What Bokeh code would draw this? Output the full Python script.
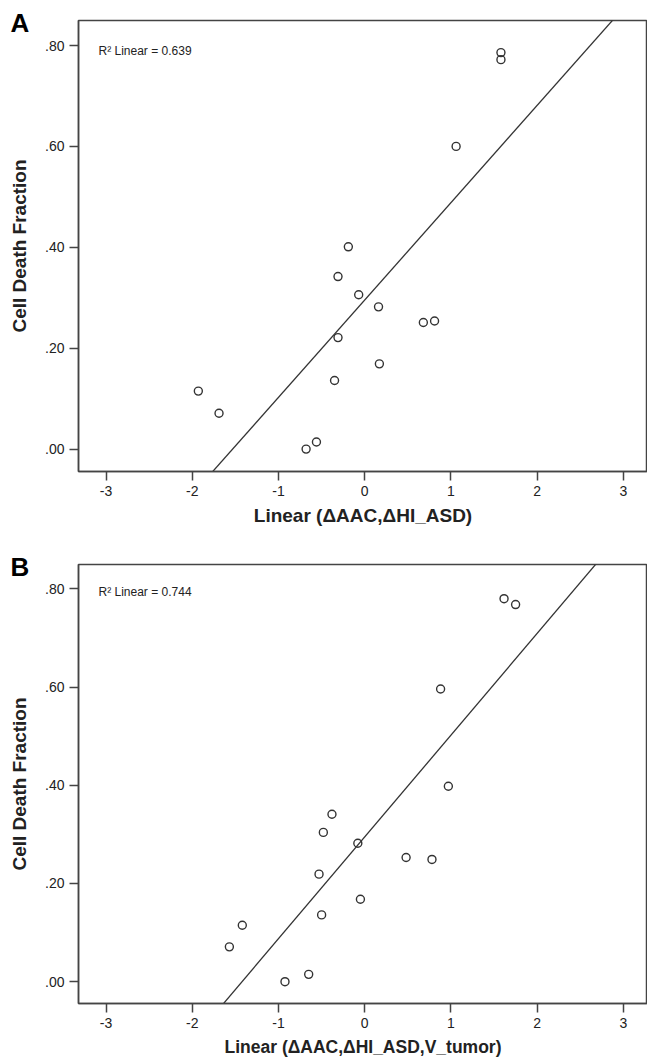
import numpy as np
from bokeh.plotting import figure
from bokeh.layouts import column
from bokeh.models import FixedTicker, Label, Range1d, Title
from bokeh.embed import file_html
from bokeh.resources import INLINE

# ---- data ----
a_x = [-0.19, -0.31, -0.07, 0.16, 0.68, 0.81, -0.31, 0.17, -0.35, -1.93, -1.69, -0.68, -0.56, 1.58, 1.58, 1.06]
a_y = [0.401, 0.342, 0.306, 0.282, 0.251, 0.254, 0.221, 0.169, 0.136, 0.115, 0.071, 0.000, 0.014, 0.786, 0.772, 0.600]

b_x = [0.97, -0.38, -0.48, -0.08, 0.48, 0.78, -0.53, -0.05, -0.50, -1.42, -1.57, -0.925, -0.65, 1.616, 1.75, 0.88]
b_y = [0.398, 0.341, 0.304, 0.282, 0.253, 0.249, 0.219, 0.168, 0.136, 0.115, 0.071, 0.000, 0.015, 0.780, 0.768, 0.596]

r2_a = "0.639"
r2_b = "0.744"

x_ticks = [-3, -2, -1, 0, 1, 2, 3]
x_tick_labels = ["-3", "-2", "-1", "0", "1", "2", "3"]
y_ticks = [0.0, 0.2, 0.4, 0.6, 0.8]
y_tick_labels = [".00", ".20", ".40", ".60", ".80"]

x_title_a = "Linear (\u0394AAC,\u0394HI_ASD)"
x_title_b = "Linear (\u0394AAC,\u0394HI_ASD,V_tumor)"
y_title = "Cell Death Fraction"

X_LO, X_HI = -3.32, 3.28
Y_LO, Y_HI = -0.0444, 0.8496

FONT = "Liberation Sans"
INK = "#222222"
AXC = "#444444"


def make_panel(xs, ys, letter, r2, xtitle, xtitle_size, frame_h, top, bottom,
               canvas_h, r2_base, letter_lh):
    p = figure(width=647, height=canvas_h, frame_width=569, frame_height=frame_h,
               output_backend="svg", toolbar_location=None,
               x_range=Range1d(X_LO, X_HI), y_range=Range1d(Y_LO, Y_HI),
               min_border_left=78, min_border_right=0,
               min_border_top=top, min_border_bottom=bottom)
    p.background_fill_color = "white"
    p.border_fill_color = "white"
    p.outline_line_color = AXC
    p.outline_line_width = 1.5
    p.xgrid.visible = False
    p.ygrid.visible = False

    # panel letter: left-aligned title pulled out to the canvas edge
    p.add_layout(Title(text=letter, align="left", offset=-68, standoff=-35,
                       text_font=FONT, text_font_style="bold",
                       text_font_size="26px", text_line_height=letter_lh,
                       text_color="#000000", vertical_align="bottom"), "above")

    for ax in (p.xaxis[0], p.yaxis[0]):
        ax.axis_line_color = AXC
        ax.axis_line_width = 1.5
        ax.major_tick_line_color = AXC
        ax.major_tick_line_width = 1.5
        ax.major_tick_out = 9
        ax.major_tick_in = 0
        ax.minor_tick_line_color = None
        ax.major_label_text_font = FONT
        ax.major_label_text_font_size = "14px"
        ax.major_label_text_color = INK
        ax.axis_label_text_font = FONT
        ax.axis_label_text_font_style = "bold"
        ax.axis_label_text_font_size = "19px"
        ax.axis_label_text_color = INK

    p.xaxis.ticker = FixedTicker(ticks=x_ticks)
    p.xaxis.major_label_overrides = {t: l for t, l in zip(x_ticks, x_tick_labels)}
    p.xaxis.major_label_standoff = 5
    p.xaxis.axis_label = xtitle
    p.xaxis.axis_label_text_font_size = xtitle_size
    p.xaxis.axis_label_standoff = 6

    p.yaxis.ticker = FixedTicker(ticks=y_ticks)
    p.yaxis.major_label_overrides = {t: l for t, l in zip(y_ticks, y_tick_labels)}
    p.yaxis.major_label_standoff = 5
    p.yaxis.axis_label = y_title
    p.yaxis.axis_label_standoff = 12

    # regression line fitted to the points
    slope, icpt = np.polyfit(np.array(xs), np.array(ys), 1)
    lx = np.array([X_LO, X_HI])
    p.line(lx, slope * lx + icpt, line_color="#333333", line_width=1.3)

    p.scatter(xs, ys, marker="circle", size=8, fill_color=None,
              line_color="#333333", line_width=1.4)

    p.add_layout(Label(x=20, y=r2_base, x_units="screen", y_units="screen",
                       text="R\u00b2 Linear = " + r2, text_font=FONT,
                       text_font_size="12px", text_color=INK,
                       text_baseline="alphabetic"))
    return p


pA = make_panel(a_x, a_y, "A", r2_a, x_title_a, "19px", frame_h=451, top=20,
                bottom=69, canvas_h=540, r2_base=451 - 30, letter_lh=1.5)
pB = make_panel(b_x, b_y, "B", r2_b, x_title_b, "17.5px", frame_h=439, top=24,
                bottom=56, canvas_h=519, r2_base=439 - 27.5, letter_lh=1.35)

layout = column(pA, pB, spacing=0)
open("out.html", "w").write(file_html(layout, INLINE))
